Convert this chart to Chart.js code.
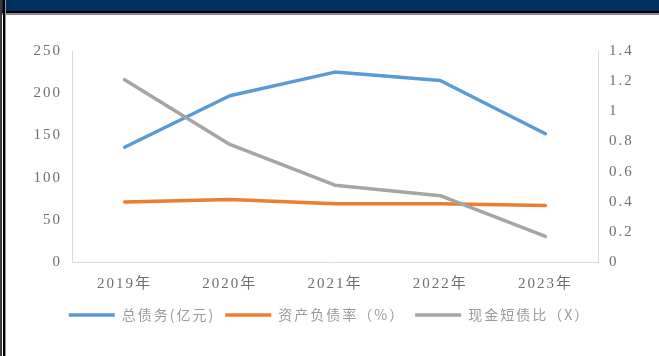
<!DOCTYPE html>
<html>
<head>
<meta charset="utf-8">
<title>债务指标</title>
<script src="https://cdn.jsdelivr.net/npm/chart.js@4.4.1/dist/chart.umd.min.js"></script>
<style>
  body { margin: 0; background: #fff; width: 659px; height: 356px; overflow: hidden; position: relative; }
  #band { position: absolute; left: 0; top: 0; width: 659px; height: 11px; background: #00305f; }
  #band-line1 { position: absolute; left: 0; top: 11px; width: 659px; height: 2px; background: #000; }
  #band-line2 { position: absolute; left: 0; top: 13px; width: 659px; height: 2px; background: #8a8a8a; }
  #edge1 { position: absolute; left: 0; top: 0; width: 2px; height: 356px; background: #3a3a3a; }
  #edge2 { position: absolute; left: 3px; top: 0; width: 2px; height: 356px; background: #000; }
  #edge3 { position: absolute; left: 5px; top: 0; width: 1px; height: 356px; background: #9a9a9a; }
  #wrap { position: absolute; left: 0; top: 0; width: 659px; height: 356px; }
</style>
</head>
<body>
<div id="wrap"><canvas id="myChart"></canvas></div>
<div id="band"></div>
<div id="band-line1"></div>
<div id="band-line2"></div>
<div id="edge1"></div>
<div id="edge2"></div>
<div id="edge3"></div>
<script>
  var years = ['2019年', '2020年', '2021年', '2022年', '2023年'];
  var totalDebt = [136, 197, 225, 215, 152];      // 总债务(亿元)
  var debtRatio = [71, 74, 69, 69, 67];           // 资产负债率（%）
  var cashRatio = [1.21, 0.78, 0.51, 0.44, 0.17]; // 现金短债比（X）
  var leftTicks = [0, 50, 100, 150, 200, 250];
  var rightTicks = [0, 0.2, 0.4, 0.6, 0.8, 1, 1.2, 1.4];

  var tickFont = { family: "'Liberation Serif', 'Noto Sans CJK SC', serif", size: 15 };
  var tickColor = '#6f6f6f';
  var axisColor = '#d9d9d9';
  var lineW = 3.5;

  // spread the characters a little, like the original
  var spacing = {
    id: 'spacing',
    beforeLayout: function(chart) { chart.ctx.letterSpacing = '2px'; },
    beforeDraw: function(chart) { chart.ctx.letterSpacing = '2px'; }
  };

  function series(label, data, color, axis, order) {
    return {
      label: label,
      data: data,
      borderColor: color,
      backgroundColor: color,
      pointBorderColor: color,
      pointBackgroundColor: color,
      pointBorderWidth: lineW,
      yAxisID: axis,
      order: order
    };
  }

  var ctx = document.getElementById('myChart').getContext('2d');
  var myChart = new Chart(ctx, {
    type: 'line',
    data: {
      labels: years,
      datasets: [
        series('总债务(亿元)', totalDebt, '#5b9bd5', 'y', 2),
        series('资产负债率（%）', debtRatio, '#ed7d31', 'y', 1),
        series('现金短债比（X）', cashRatio, '#a5a5a5', 'y1', 0)
      ]
    },
    options: {
      responsive: true,
      maintainAspectRatio: false,
      animation: false,
      elements: {
        line: { borderWidth: lineW, tension: 0, borderCapStyle: 'round', borderJoinStyle: 'round' },
        point: { radius: 0, hoverRadius: 0, pointStyle: 'line' }
      },
      layout: { padding: { top: 51, left: 0, right: 0, bottom: 24 } },
      plugins: {
        tooltip: { enabled: false },
        legend: {
          position: 'bottom',
          labels: {
            usePointStyle: true,
            pointStyle: 'line',
            pointStyleWidth: 46,
            boxHeight: 14,
            padding: 10,
            color: '#9a9a9a',
            font: { family: "'Noto Sans CJK SC', sans-serif", size: 14 },
            sort: function(a, b) { return a.datasetIndex - b.datasetIndex; }
          }
        }
      },
      scales: {
        x: {
          offset: true,
          grid: { display: false, drawTicks: false },
          border: { display: true, color: axisColor, width: 1 },
          ticks: { color: tickColor, font: tickFont, padding: 13, maxRotation: 0 },
          afterFit: function(s) { s.height = 36; }
        },
        y: {
          position: 'left',
          min: 0, max: 250,
          afterBuildTicks: function(s) { s.ticks = leftTicks.map(function(v) { return { value: v }; }); },
          grid: { display: false, drawTicks: false },
          border: { display: true, color: axisColor, width: 1 },
          ticks: { color: tickColor, font: tickFont, padding: 10 },
          afterFit: function(s) { s.width = 72; }
        },
        y1: {
          position: 'right',
          min: 0, max: 1.4,
          afterBuildTicks: function(s) { s.ticks = rightTicks.map(function(v) { return { value: v }; }); },
          grid: { display: false, drawTicks: false },
          border: { display: true, color: axisColor, width: 1 },
          ticks: {
            color: tickColor, font: tickFont, padding: 11,
            callback: function(v) { return String(Math.round(v * 10) / 10); }
          },
          afterFit: function(s) { s.width = 61; }
        }
      }
    },
    plugins: [spacing]
  });
</script>
</body>
</html>
